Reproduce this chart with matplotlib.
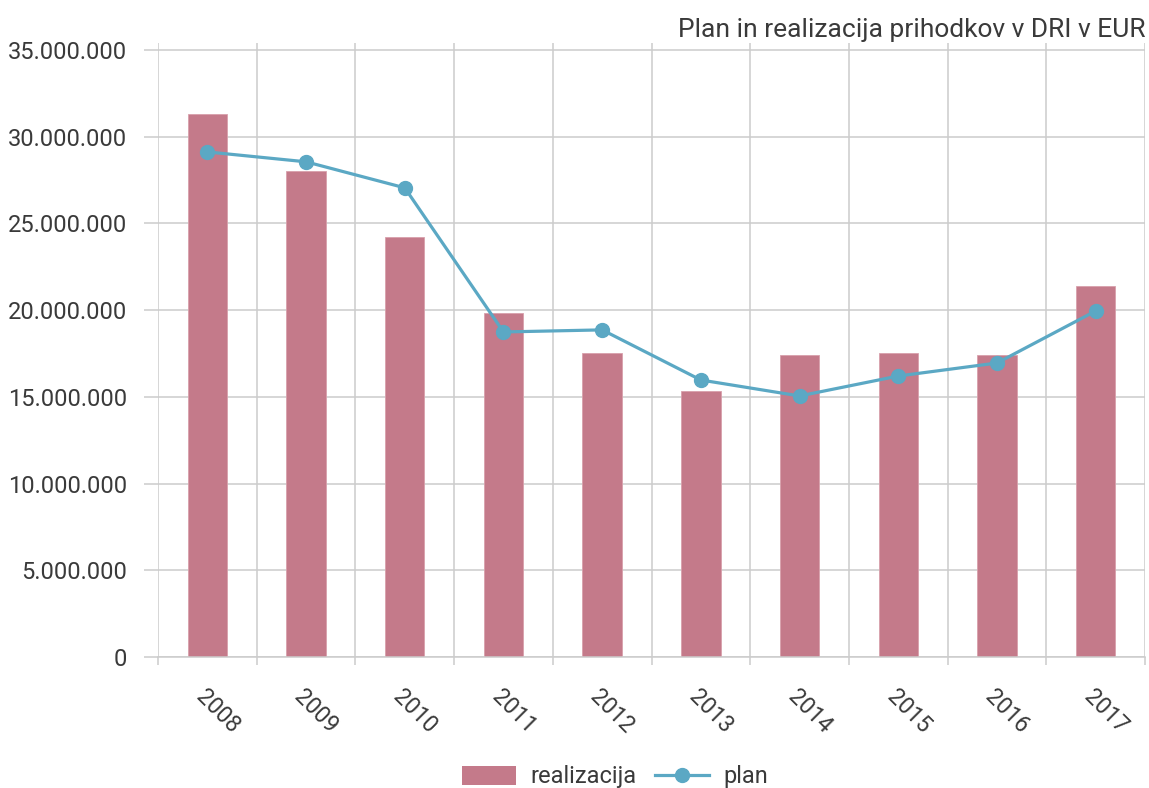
import numpy as np
import matplotlib.pyplot as plt
from matplotlib.ticker import FuncFormatter, MultipleLocator
from matplotlib.patches import Patch
from matplotlib.lines import Line2D

plt.rcParams['font.family'] = ['Roboto', 'DejaVu Sans']

years = ['2008', '2009', '2010', '2011', '2012', '2013', '2014', '2015', '2016', '2017']
realizacija = [31.31e6, 28.03e6, 24.22e6, 19.84e6, 17.53e6, 15.34e6, 17.42e6, 17.53e6, 17.42e6, 21.40e6]
plan = [29.12e6, 28.55e6, 27.05e6, 18.74e6, 18.86e6, 15.97e6, 15.05e6, 16.20e6, 16.95e6, 19.95e6]

bar_color = '#c47a8a'
line_color = '#5ba8c4'
grid_color = '#cccccc'
text_color = '#3a3a3a'

fig = plt.figure(figsize=(11.49, 7.88), dpi=100)
ax = fig.add_axes([158 / 1149, 1 - 657 / 788, (1145 - 158) / 1149, (657 - 43) / 788])

x = np.arange(len(years))
ax.bar(x, realizacija, width=0.4, color=bar_color, edgecolor='#d8a0ac', linewidth=0.6,
       label='realizacija', zorder=2)
ax.plot(x, plan, color=line_color, linewidth=2.3, marker='o', markersize=10,
        label='plan', zorder=3)

ax.set_xlim(-0.5, len(years) - 0.5)
ax.set_ylim(0, 35.4e6)

ax.yaxis.set_major_locator(MultipleLocator(5e6))
ax.yaxis.set_major_formatter(FuncFormatter(lambda v, p: f'{int(v):,}'.replace(',', '.')))
ax.set_yticks(np.arange(0, 35.1e6, 5e6))

ax.set_xticks(x)
ax.set_xticklabels(years, rotation=-45, ha='left', rotation_mode='anchor')
ax.set_xticks(np.arange(-0.5, len(years), 1), minor=True)

ax.tick_params(axis='x', which='major', length=0, pad=20, labelsize=16.5, labelcolor=text_color)
ax.tick_params(axis='x', which='minor', length=6, width=1.1, color=grid_color)
ax.tick_params(axis='y', length=10, width=1.1, color=grid_color, pad=12,
               labelsize=17, labelcolor=text_color)

ax.grid(axis='y', color=grid_color, linewidth=1.1, zorder=0)
ax.grid(axis='x', which='minor', color=grid_color, linewidth=1.1, zorder=0)
ax.set_axisbelow(True)

for side in ['top', 'left', 'right']:
    ax.spines[side].set_visible(False)
ax.spines['bottom'].set_color(grid_color)
ax.spines['bottom'].set_linewidth(1.1)

fig.text(1145 / 1149, 1 - 37 / 788, 'Plan in realizacija prihodkov v DRI v EUR',
         ha='right', va='baseline', fontsize=19, color=text_color)

handles = [Patch(facecolor=bar_color, label='realizacija'),
           Line2D([], [], color=line_color, linewidth=2.3, marker='o', markersize=10, label='plan')]
fig.legend(handles=handles, loc='center', bbox_to_anchor=(615 / 1149, 1 - 777 / 788), ncol=2,
           frameon=False, fontsize=17, labelcolor=text_color, handlelength=2.3,
           handleheight=0.9, columnspacing=0.8, handletextpad=0.6)

fig.savefig('out.png', dpi=100)
